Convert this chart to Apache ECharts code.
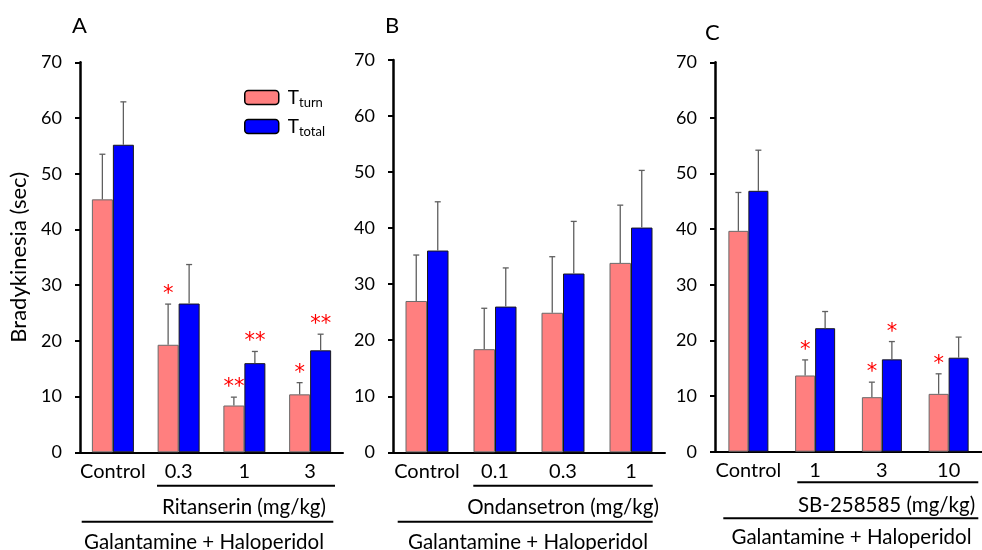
<!DOCTYPE html>
<html><head><meta charset="utf-8">
<script src="https://cdn.jsdelivr.net/npm/echarts@6/dist/echarts.min.js"></script>
<style>html,body{margin:0;padding:0;background:#fff}#c{width:982px;height:550px}</style>
</head><body><div id="c"></div>
<script>
// ---- data ----
const catsA = ['Control', '0.3', '1', '3'];
const catsB = ['Control', '0.1', '0.3', '1'];
const catsC = ['Control', '1', '3', '10'];
const yTicks = [0, 10, 20, 30, 40, 50, 60, 70];

const turnA = [45.4, 19.3, 8.4, 10.4];
const turnA_sem = [8.1, 7.3, 1.5, 2.1];
const totalA = [55.2, 26.7, 16.0, 18.3];
const totalA_sem = [7.7, 7.0, 2.1, 2.9];
const sigTurnA = ['', '*', '**', '*'];
const sigTotalA = ['', '', '**', '**'];

const turnB = [27.0, 18.4, 24.9, 33.8];
const turnB_sem = [8.2, 7.3, 10.0, 10.3];
const totalB = [36.0, 26.0, 31.9, 40.1];
const totalB_sem = [8.7, 6.9, 9.3, 10.2];
const sigTurnB = ['', '', '', ''];
const sigTotalB = ['', '', '', ''];

const turnC = [39.7, 13.7, 9.8, 10.4];
const turnC_sem = [6.9, 2.8, 2.7, 3.6];
const totalC = [46.9, 22.2, 16.6, 16.9];
const totalC_sem = [7.3, 3.0, 3.2, 3.7];
const sigTurnC = ['', '*', '*', '*'];
const sigTotalC = ['', '', '*', ''];

// ---- chart ----
const FONT = 'Lato';
const PINK = '#FF7F7F';
const BLUE = '#0000FF';
const chart = echarts.init(document.getElementById('c'), null, {renderer: 'canvas'});

const grids = [
  {left: 80, top: 62.3, width: 263, height: 390},
  {left: 393, top: 60, width: 272, height: 392.3},
  {left: 715, top: 62.3, width: 278, height: 389.4}
];
const barW = [21, 21.5, 20];
const panels = [
  {cats: catsA, turn: turnA, turnSem: turnA_sem, total: totalA, totalSem: totalA_sem, sT: sigTurnA, sO: sigTotalA},
  {cats: catsB, turn: turnB, turnSem: turnB_sem, total: totalB, totalSem: totalB_sem, sT: sigTurnB, sO: sigTotalB},
  {cats: catsC, turn: turnC, turnSem: turnC_sem, total: totalC, totalSem: totalC_sem, sT: sigTurnC, sO: sigTotalC}
];

function errRender(semArr, sigArr, side, bw) {
  return function (params, api) {
    const i = api.value(0), m = api.value(1);
    const s = semArr[params.dataIndex];
    const base = api.coord([i, m]);
    const top = api.coord([i, m + s]);
    const x = base[0] + side * bw / 2;
    const st = {stroke: '#5f5f5f', lineWidth: 1.3};
    const children = [
      {type: 'line', shape: {x1: x, y1: base[1], x2: x, y2: top[1]}, style: st},
      {type: 'line', shape: {x1: x - 3, y1: top[1], x2: x + 3, y2: top[1]}, style: st}
    ];
    const sig = sigArr[params.dataIndex];
    if (sig) {
      children.push({type: 'text', x: x, y: top[1] - 9.5,
        style: {text: sig, fill: '#FF0000', fontSize: 21, fontFamily: 'DejaVu Sans', align: 'center', verticalAlign: 'middle'}});
    }
    return {type: 'group', children: children};
  };
}

const xAxes = [], yAxes = [], series = [];
panels.forEach((p, k) => {
  xAxes.push({
    type: 'category', gridIndex: k, data: p.cats,
    axisLine: {lineStyle: {color: '#000', width: 2}},
    axisTick: {show: false},
    axisLabel: {color: '#000', fontSize: 20, fontFamily: FONT, margin: 9, interval: 0}
  });
  yAxes.push({
    type: 'value', gridIndex: k, min: yTicks[0], max: yTicks[yTicks.length - 1], interval: 10,
    name: k === 0 ? 'Bradykinesia (sec)' : '', nameLocation: 'middle', nameGap: 50,
    nameTextStyle: {color: '#000', fontSize: 22, fontFamily: FONT},
    splitLine: {show: false},
    axisLine: {show: true, lineStyle: {color: '#000', width: 2.5}},
    axisTick: {show: true, inside: false, length: 5, lineStyle: {color: '#000', width: 2}},
    axisLabel: {color: '#000', fontSize: 18, fontFamily: FONT, margin: 18}
  });
  series.push({
    name: 'Tturn', type: 'bar', xAxisIndex: k, yAxisIndex: k, data: p.turn,
    barWidth: barW[k], barGap: '0%',
    itemStyle: {color: PINK, borderColor: '#6a6a6a', borderWidth: 1}
  });
  series.push({
    name: 'Ttotal', type: 'bar', xAxisIndex: k, yAxisIndex: k, data: p.total,
    barWidth: barW[k], barGap: '0%',
    itemStyle: {color: BLUE, borderColor: '#1a1a1a', borderWidth: 1}
  });
  series.push({
    type: 'custom', xAxisIndex: k, yAxisIndex: k, z: 5, silent: true,
    data: p.turn.map((v, i) => [i, v]),
    renderItem: errRender(p.turnSem, p.sT, -1, barW[k])
  });
  series.push({
    type: 'custom', xAxisIndex: k, yAxisIndex: k, z: 5, silent: true,
    data: p.total.map((v, i) => [i, v]),
    renderItem: errRender(p.totalSem, p.sO, 1, barW[k])
  });
});

function hline(x1, x2, y) {
  return {type: 'line', shape: {x1: x1, y1: y, x2: x2, y2: y}, style: {stroke: '#000', lineWidth: 2}, silent: true};
}
function txt(t, x, y, size, align) {
  return {type: 'text', x: x, y: y, silent: true,
    style: {text: t, fill: '#000', fontSize: size, fontFamily: FONT, align: align || 'center', verticalAlign: 'middle'}};
}

const graphics = [
  txt('A', 72, 26, 22, 'left'),
  txt('B', 385, 26, 22, 'left'),
  txt('C', 705, 33, 22, 'left'),
  hline(157, 335, 485.7), txt('Ritanserin (mg/kg)', 244, 507, 20.5),
  hline(81.7, 333.3, 521.7), txt('Galantamine + Haloperidol', 204, 542, 20.5),
  hline(473.3, 652.7, 485.7), txt('Ondansetron (mg/kg)', 563, 507, 20.5),
  hline(397.7, 652.7, 521.7), txt('Galantamine + Haloperidol', 528, 542, 20.5),
  hline(797.3, 978.3, 482.3), txt('SB-258585 (mg/kg)', 886.5, 505, 20.5),
  hline(723.3, 978.3, 518.3), txt('Galantamine + Haloperidol', 851.5, 537.5, 20.5)
];

chart.setOption({
  animation: false,
  backgroundColor: '#fff',
  grid: grids,
  xAxis: xAxes,
  yAxis: yAxes,
  series: series,
  legend: {
    data: ['Tturn', 'Ttotal'], orient: 'vertical', left: 239, top: 83,
    itemWidth: 34, itemHeight: 14, itemGap: 8, selectedMode: false,
    itemStyle: {borderColor: '#000', borderWidth: 1.5},
    formatter: function (n) { return n === 'Tturn' ? '{t|T}{s|turn}' : '{t|T}{s|total}'; },
    textStyle: {
      rich: {
        t: {fontSize: 19, fontFamily: FONT, color: '#000', padding: [0, 0, 0, 4]},
        s: {fontSize: 13, fontFamily: FONT, color: '#000', padding: [10, 0, 0, 0]}
      }
    }
  },
  graphic: graphics
});
</script>
</body></html>
